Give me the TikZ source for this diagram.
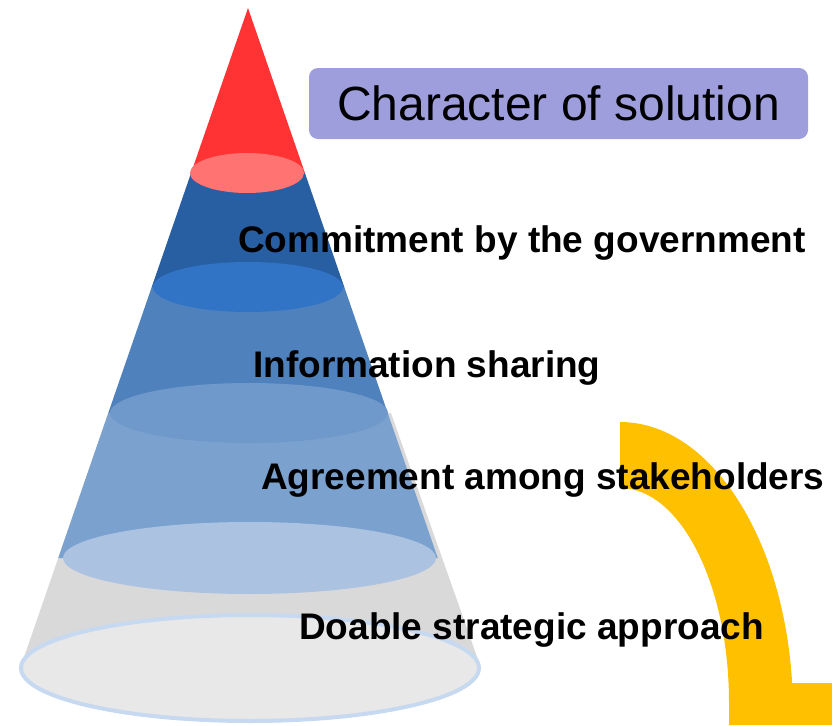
\documentclass[tikz,border=0pt]{standalone}
\usepackage{fontspec}
\setmainfont{Liberation Sans}
\definecolor{redcone}{HTML}{FF3333}
\definecolor{redell}{HTML}{FF7373}
\definecolor{bandA}{HTML}{275FA2}
\definecolor{ellA}{HTML}{3174C6}
\definecolor{bandB}{HTML}{4F81BD}
\definecolor{ellB}{HTML}{7099CB}
\definecolor{bandC}{HTML}{7BA1CF}
\definecolor{ellC}{HTML}{ABC2E1}
\definecolor{bandD}{HTML}{D9D9D9}
\definecolor{ellD}{HTML}{E8E8E8}
\definecolor{ellDline}{HTML}{C6D9F1}
\definecolor{arrowc}{HTML}{FFC000}
\definecolor{boxc}{HTML}{9E9EDD}
\tikzset{
  lbl/.style={anchor=base west, inner sep=0pt, text=black, font=\bfseries\fontsize{37}{44}\selectfont},
  titlebox/.style={fill=boxc, rounded corners=9pt, minimum width=499pt, minimum height=71pt, inner sep=0pt, font=\fontsize{48}{56}\selectfont}
}
\begin{document}
\begin{tikzpicture}[x=1pt,y=1pt]
\useasboundingbox (0,-725) rectangle (832,0);
% gray lower part (slightly wider on the right)
\fill[bandD] (248-0.345*405,-413) -- (248-0.345*660,-668) -- (248+0.353*660,-668) -- (248+0.353*405,-413) -- cycle;
\draw[ellDline, line width=4pt, fill=ellD] (250,-668) ellipse [x radius=229, y radius=53];
% light blue band
\fill[bandC] (248-0.345*405,-413) -- (248-0.345*550,-558) -- (248+0.345*550,-558) -- (248+0.345*405,-413) -- cycle;
\fill[ellC] (249.5,-558) ellipse [x radius=186.5, y radius=36];
% medium blue band
\fill[bandB] (248-0.345*279,-287) -- (248-0.345*405,-413) -- (248+0.345*405,-413) -- (248+0.345*279,-287) -- cycle;
\fill[ellB] (249,-413) ellipse [x radius=139, y radius=30];
% dark blue band
\fill[bandA] (248-0.345*165,-173) -- (248-0.345*279,-287) -- (248+0.345*279,-287) -- (248+0.345*165,-173) -- cycle;
\fill[ellA] (248,-287) ellipse [x radius=95, y radius=25];
% red tip
\fill[redcone] (248,-8) -- (248-0.345*165,-173) -- (248+0.345*165,-173) -- cycle;
\fill[redell] (247,-173) ellipse [x radius=57, y radius=20];
% yellow curved arrow (cropped)
\fill[arrowc] (620,-422) arc[start angle=90, end angle=5.74, x radius=173, y radius=290]
  -- (832,-683) -- (832,-725) -- (729,-725) -- (729,-703)
  arc[start angle=0, end angle=90, x radius=109, y radius=215] -- cycle;
% title box
\node[titlebox] (title) at (558.5,-103.5) {Character of solution};
% labels
\node[lbl] (commit) at (238,-252) {Commitment by the government};
\node[lbl] (info) at (253,-377) {Information sharing};
\node[lbl] (agree) at (261,-489) {Agreement among stakeholders};
\node[lbl] (doable) at (299,-639) {Doable strategic approach};
\end{tikzpicture}
\end{document}
